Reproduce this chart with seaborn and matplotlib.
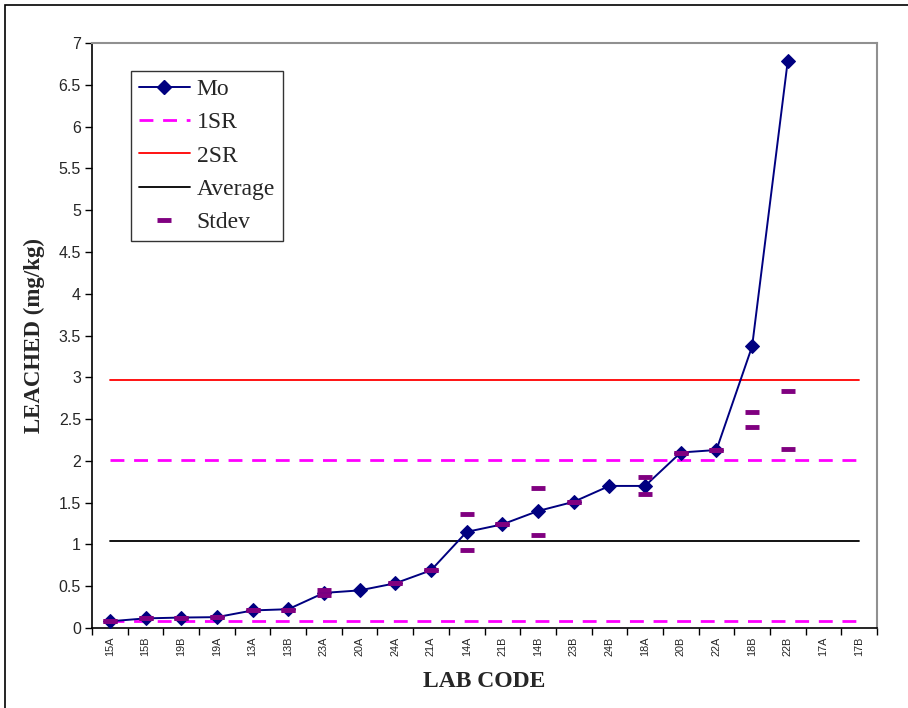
import numpy as np
import matplotlib
matplotlib.use("Agg")
import matplotlib.pyplot as plt
from matplotlib.lines import Line2D
from matplotlib.patches import Rectangle
import seaborn as sns

# data
lab_codes = ["15A", "15B", "19B", "19A", "13A", "13B", "23A", "20A", "24A", "21A", "14A",
             "21B", "14B", "23B", "24B", "18A", "20B", "22A", "18B", "22B", "17A", "17B"]
mo = [0.08, 0.115, 0.125, 0.13, 0.21, 0.225, 0.42, 0.45, 0.535, 0.69, 1.15,
      1.24, 1.40, 1.51, 1.70, 1.70, 2.10, 2.13, 3.37, 6.79, np.nan, np.nan]
stdev_hi = [0.08, 0.115, 0.125, 0.13, 0.21, 0.21, 0.45, np.nan, 0.535, 0.69, 1.36,
            1.24, 1.68, 1.51, np.nan, 1.81, 2.10, 2.13, 2.585, 2.84, np.nan, np.nan]
stdev_lo = [0.08, 0.115, 0.125, 0.13, 0.21, 0.21, 0.39, np.nan, 0.535, 0.69, 0.935,
            1.24, 1.115, 1.51, np.nan, 1.60, 2.10, 2.13, 2.40, 2.14, np.nan, np.nan]
average = 1.04
sr1_lo, sr1_hi = 0.085, 2.01
sr2 = 2.97

sns.set_style("white")
plt.rcParams["font.family"] = ["Liberation Sans", "DejaVu Sans"]
serif = ["Liberation Serif", "DejaVu Serif"]

fig = plt.figure(figsize=(9.08, 7.08), dpi=100)
ax = fig.add_axes([92 / 908, 1 - 628 / 708, (877 - 92) / 908, (628 - 43) / 708])

pos = np.arange(len(lab_codes))
n = len(lab_codes) - 1

# reference lines
ax.plot([0, n], [sr1_lo, sr1_lo], color="#FF00FF", lw=2, dashes=(5, 3.5), zorder=2)
ax.plot([0, n], [sr1_hi, sr1_hi], color="#FF00FF", lw=2, dashes=(5, 3.5), zorder=2)
ax.plot([0, n], [sr2, sr2], color="#FF0000", lw=1.3, zorder=2)
ax.plot([0, n], [average, average], color="black", lw=1.3, zorder=2)

sns.lineplot(x=pos, y=mo, ax=ax, color="#000080", lw=1.4, marker="D", markersize=7.5,
             markeredgecolor="#000080", sort=False, zorder=3)

ax.plot(pos, stdev_hi, ls="none", marker="_", color="#800080", ms=10, mew=3.5, zorder=4)
ax.plot(pos, stdev_lo, ls="none", marker="_", color="#800080", ms=10, mew=3.5, zorder=4)

ax.set_xlim(-0.5, n + 0.5)
ax.set_ylim(0, 7)
ax.set_yticks(np.arange(0, 7.01, 0.5))
ax.set_yticklabels([f"{v:g}" for v in np.arange(0, 7.01, 0.5)], fontsize=11.5)
ax.set_xticks(pos)
ax.set_xticklabels(lab_codes, rotation=90, fontsize=7.8)
ax.set_xticks(np.arange(-0.5, n + 1), minor=True)
ax.tick_params(axis="x", which="major", length=0, pad=6)
ax.tick_params(axis="x", which="minor", length=5, width=1, color="black", direction="out", bottom=True)
ax.tick_params(axis="y", length=5, width=1, color="black", direction="out", left=True, pad=3)

for side in ["left", "bottom"]:
    ax.spines[side].set_color("black")
    ax.spines[side].set_linewidth(1.2)
for side in ["top", "right"]:
    ax.spines[side].set_color("#909090")
    ax.spines[side].set_linewidth(1.5)

ax.set_ylabel("LEACHED (mg/kg)", fontsize=16.5, fontweight="bold", family=serif, labelpad=10)
ax.set_xlabel("LAB CODE", fontsize=17, fontweight="bold", family=serif, labelpad=11)

handles = [
    Line2D([], [], color="#000080", lw=1.4, marker="D", markersize=7),
    Line2D([], [], color="#FF00FF", lw=2, dashes=(5, 3.5)),
    Line2D([], [], color="#FF0000", lw=1.3),
    Line2D([], [], color="black", lw=1.3),
    Line2D([], [], ls="none", marker="_", color="#800080", ms=10, mew=3.5),
]
leg = ax.legend(handles, ["Mo", "1SR", "2SR", "Average", "Stdev"], loc="upper left",
                bbox_to_anchor=(0.0497, 0.9526), borderaxespad=0, frameon=True, fancybox=False,
                prop={"family": serif, "size": 17}, handlelength=2.15, handletextpad=0.3,
                labelspacing=0.5, borderpad=0.33)
leg.get_frame().set_edgecolor("black")
leg.get_frame().set_linewidth(1.0)

# outer frame (left and top edges visible in the reference)
fig.patches.append(Rectangle((5 / 908, -0.1), 1.2, 1.1 - 5 / 708, transform=fig.transFigure,
                             fill=False, edgecolor="black", lw=1.2))

fig.savefig("out.png", dpi=100)
